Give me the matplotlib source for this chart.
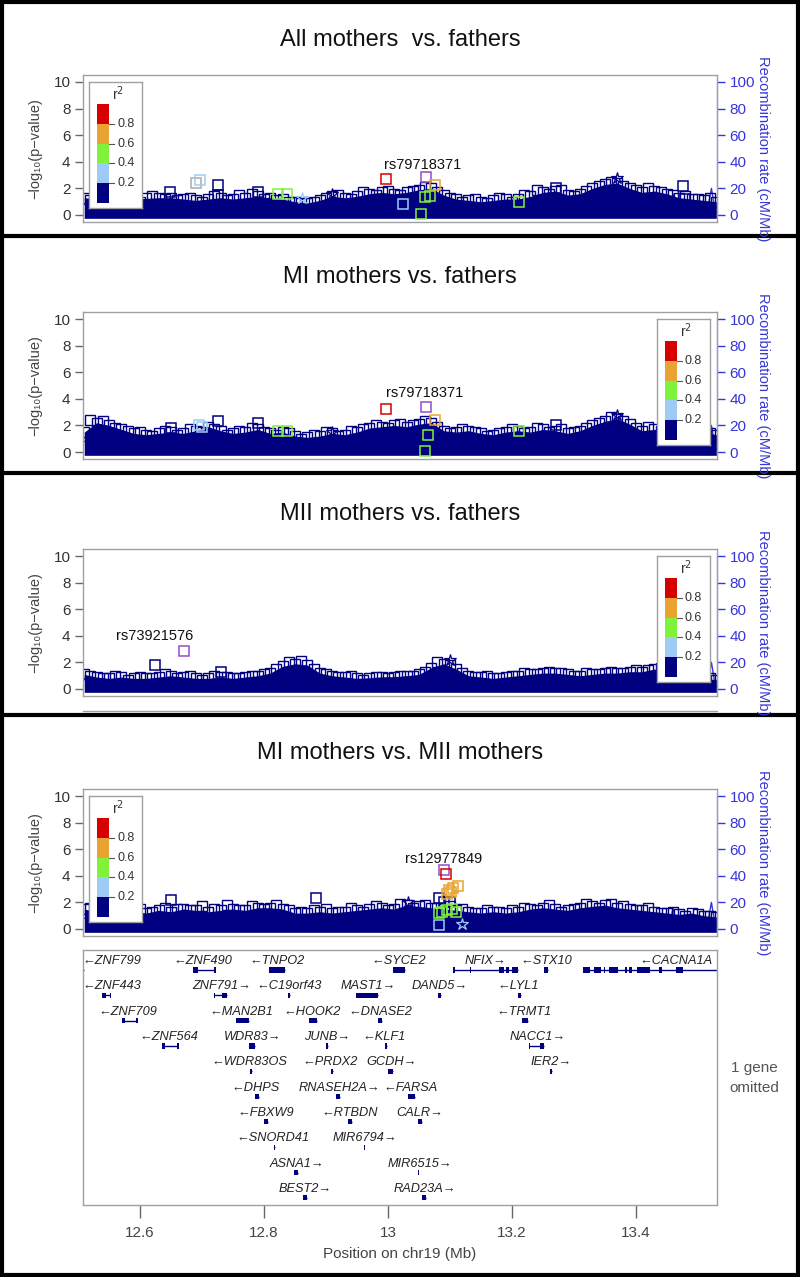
import numpy as np
import matplotlib
matplotlib.use('Agg')
import matplotlib.pyplot as plt
from matplotlib.patches import Rectangle
from matplotlib.lines import Line2D

plt.rcParams['font.family'] = ['Liberation Sans', 'DejaVu Sans']

# ---- data ---------------------------------------------------------------
XLIM = (12.508, 13.531)

# positions (Mb) where the top of the dense SNP cloud was read
env_x = [12.51, 12.53, 12.55, 12.57, 12.59, 12.61, 12.63, 12.65, 12.67, 12.69,
         12.71, 12.73, 12.75, 12.77, 12.79, 12.81, 12.83, 12.85, 12.87, 12.89,
         12.91, 12.93, 12.95, 12.97, 12.99, 13.01, 13.03, 13.05, 13.07, 13.09,
         13.11, 13.13, 13.15, 13.17, 13.19, 13.21, 13.23, 13.25, 13.27, 13.29,
         13.31, 13.33, 13.35, 13.37, 13.39, 13.41, 13.43, 13.45, 13.47, 13.49,
         13.51, 13.53]
# second set of read positions, between the first ones
mid_x = [12.52, 12.54, 12.56, 12.58, 12.60, 12.62, 12.64, 12.66, 12.68, 12.70,
         12.72, 12.74, 12.76, 12.78, 12.80, 12.82, 12.84, 12.86, 12.88, 12.90,
         12.92, 12.94, 12.96, 12.98, 13.00, 13.02, 13.04, 13.06, 13.08, 13.10,
         13.12, 13.14, 13.16, 13.18, 13.20, 13.22, 13.24, 13.26, 13.28, 13.30,
         13.32, 13.34, 13.36, 13.38, 13.40, 13.42, 13.44, 13.46, 13.48, 13.50,
         13.52]

env_all = [1.3, 1.2, 1.1, 1.2, 1.2, 1.25, 1.3, 1.3, 1.2, 1.1,
           1.2, 1.3, 1.2, 1.3, 1.4, 1.3, 1.2, 1.0, 0.9, 1.1,
           1.4, 1.3, 1.4, 1.6, 1.7, 1.6, 1.7, 1.9, 2.0, 1.5,
           1.2, 1.1, 1.0, 1.1, 1.2, 1.2, 1.4, 1.7, 1.8, 1.5,
           1.6, 2.0, 2.3, 2.4, 2.0, 1.7, 1.8, 1.6, 1.3, 1.2,
           1.1, 1.0]
mid_all = [1.1, 1.0, 1.3, 1.1, 1.0, 1.4, 1.2, 1.1, 1.3, 1.0,
           1.4, 1.1, 1.5, 1.6, 1.2, 1.1, 1.0, 0.9, 1.0, 1.3,
           1.5, 1.2, 1.7, 1.5, 1.8, 1.5, 1.8, 2.1, 1.7, 1.3,
           1.0, 1.2, 0.9, 1.3, 1.0, 1.5, 1.9, 1.6, 1.9, 1.4,
           1.8, 2.2, 2.5, 2.2, 1.9, 2.0, 1.7, 1.5, 1.4, 1.2,
           1.3]
env_mi = [1.5, 2.2, 2.0, 1.7, 1.4, 1.3, 1.4, 1.5, 1.4, 1.6,
          1.9, 1.6, 1.4, 1.5, 1.7, 1.4, 1.5, 1.2, 1.1, 1.2,
          1.4, 1.3, 1.5, 1.8, 1.9, 2.0, 1.9, 2.1, 2.2, 1.6,
          1.5, 1.6, 1.4, 1.3, 1.5, 1.6, 1.5, 1.7, 1.6, 1.4,
          1.6, 2.0, 2.3, 2.5, 2.1, 1.6, 1.7, 1.5, 1.3, 1.4,
          1.5, 1.3]
mid_mi = [2.4, 2.3, 1.8, 1.6, 1.5, 1.2, 1.6, 1.3, 1.7, 1.5,
          1.7, 1.3, 1.6, 1.8, 1.5, 1.3, 1.4, 1.0, 1.3, 1.5,
          1.2, 1.6, 1.7, 2.0, 1.8, 2.1, 2.0, 2.3, 1.9, 1.4,
          1.7, 1.5, 1.2, 1.4, 1.7, 1.4, 1.8, 1.5, 1.7, 1.5,
          1.8, 2.2, 2.6, 2.3, 1.8, 1.9, 1.6, 1.4, 1.5, 1.6,
          1.4]
env_mii = [1.1, 0.9, 0.8, 0.9, 0.8, 0.8, 0.9, 1.0, 0.9, 0.8,
           0.8, 0.9, 0.8, 0.9, 1.0, 1.2, 1.7, 1.9, 1.8, 1.2,
           1.0, 0.9, 0.8, 0.8, 0.9, 0.9, 1.0, 1.1, 1.6, 1.9,
           1.5, 1.0, 0.9, 0.8, 0.9, 1.0, 1.1, 1.2, 1.2, 1.1,
           1.0, 1.1, 1.2, 1.2, 1.3, 1.3, 1.5, 1.3, 1.1, 0.9,
           0.8, 0.7]
mid_mii = [1.0, 0.8, 1.0, 0.7, 0.9, 0.8, 1.1, 0.8, 1.0, 0.7,
           1.0, 0.9, 0.8, 1.0, 1.1, 1.5, 2.0, 2.1, 1.5, 1.1,
           0.9, 1.0, 0.7, 0.9, 0.8, 1.0, 1.0, 1.3, 2.0, 1.8,
           1.2, 0.9, 1.0, 0.8, 1.0, 1.2, 1.1, 1.3, 1.2, 1.0,
           1.2, 1.1, 1.3, 1.2, 1.4, 1.4, 1.6, 1.2, 1.0, 0.9,
           0.8]
env_mimii = [1.5, 1.3, 1.6, 1.5, 1.3, 1.2, 1.4, 1.3, 1.5, 1.4,
             1.3, 1.4, 1.5, 1.4, 1.6, 1.6, 1.5, 1.2, 1.2, 1.3,
             1.2, 1.3, 1.4, 1.5, 1.6, 1.5, 1.8, 1.7, 1.6, 1.5,
             1.4, 1.3, 1.2, 1.3, 1.2, 1.3, 1.5, 1.6, 1.5, 1.4,
             1.6, 1.7, 1.8, 1.6, 1.5, 1.4, 1.3, 1.2, 1.1, 1.2,
             1.0, 0.9]
mid_mimii = [1.6, 1.4, 1.9, 1.4, 1.5, 1.3, 1.6, 1.5, 1.4, 1.7,
             1.5, 1.8, 1.4, 1.7, 1.5, 1.8, 1.4, 1.3, 1.4, 1.5,
             1.3, 1.6, 1.3, 1.7, 1.4, 1.9, 1.6, 1.8, 1.6, 1.7,
             1.5, 1.2, 1.4, 1.3, 1.4, 1.6, 1.4, 1.8, 1.3, 1.5,
             1.9, 1.6, 1.9, 1.7, 1.4, 1.6, 1.2, 1.3, 1.0, 1.1,
             1.0]

# individually visible SNPs: position, -log10 p, r2 class
# classes: n navy, l light blue, g green, o orange, r red, p index, a no r2
snp_all_x = [12.648, 12.690, 12.697, 12.726, 12.726, 12.790, 12.823, 12.837,
             12.997, 13.061, 13.076, 13.060, 13.068, 13.053, 13.024, 13.211,
             13.271, 13.476, 13.480]
snp_all_y = [1.75, 2.4, 2.6, 2.25, 1.5, 1.7, 1.6, 1.6,
             2.7, 2.85, 2.25, 1.35, 1.4, 0.05, 0.8, 1.0,
             2.0, 2.15, 1.2]
snp_all_c = ['n', 'a', 'l', 'n', 'n', 'n', 'g', 'g',
             'r', 'p', 'o', 'g', 'g', 'g', 'l', 'g',
             'n', 'n', 'n']
star_all_x = [12.861, 12.910, 13.369]
star_all_y = [1.25, 1.6, 2.8]
star_all_c = ['l', 'n', 'n']

snp_mi_x = [12.650, 12.695, 12.700, 12.726, 12.790, 12.823, 12.837, 12.997,
            13.061, 13.076, 13.060, 13.065, 13.211, 13.271, 13.500]
snp_mi_y = [1.8, 2.0, 1.9, 2.3, 2.2, 1.6, 1.6, 3.2,
            3.4, 2.4, 0.1, 1.3, 1.6, 2.0, 1.9]
snp_mi_c = ['n', 'l', 'l', 'n', 'n', 'g', 'g', 'r',
            'p', 'o', 'g', 'g', 'g', 'n', 'n']
star_mi_x = [12.910, 13.369]
star_mi_y = [1.5, 2.8]
star_mi_c = ['n', 'n']

snp_mii_x = [12.624, 12.671, 12.730]
snp_mii_y = [1.8, 2.85, 1.3]
snp_mii_c = ['n', 'p', 'n']
star_mii_x = [13.100]
star_mii_y = [2.2]
star_mii_c = ['n']

snp_mimii_x = [12.650, 12.884, 13.082, 13.090, 13.100, 13.090, 13.093, 13.098,
               13.102, 13.113, 13.105, 13.095, 13.082, 13.088, 13.095, 13.103,
               13.110, 13.082]
snp_mimii_y = [2.2, 2.3, 2.3, 2.0, 2.0, 4.4, 4.15, 2.9,
               2.75, 3.2, 3.1, 2.6, 1.2, 1.3, 1.4, 1.5,
               1.3, 0.3]
snp_mimii_c = ['n', 'n', 'n', 'n', 'n', 'p', 'r', 'o',
               'o', 'o', 'o', 'o', 'g', 'g', 'g', 'g',
               'g', 'l']
star_mimii_x = [13.032, 13.119]
star_mimii_y = [2.0, 0.4]
star_mimii_c = ['n', 'l']

# recombination rate (cM/Mb)
rec_x = [12.51, 12.56, 12.62, 12.68, 12.74, 12.80, 12.86, 12.92, 12.98, 13.04,
         13.10, 13.16, 13.22, 13.28, 13.34, 13.40, 13.455, 13.46, 13.465,
         13.50, 13.515, 13.522, 13.528, 13.531]
rec_y = [8, 5, 6, 4, 7, 5, 3, 6, 8, 9,
         5, 3, 6, 7, 9, 8, 3, 16, 3,
         4, 2, 20, 3, 2]

titles = ['All mothers  vs. fathers', 'MI mothers vs. fathers',
          'MII mothers vs. fathers', 'MI mothers vs. MII mothers']
index_names = ['rs79718371', 'rs79718371', 'rs73921576', 'rs12977849']
index_label_x = [13.056, 13.060, 12.624, 13.090]
index_label_y = [3.75, 4.45, 4.0, 5.3]

# genes
gene_names = ['ZNF799', 'ZNF490', 'TNPO2', 'SYCE2', 'NFIX', 'STX10', 'CACNA1A',
              'ZNF443', 'ZNF791', 'C19orf43', 'MAST1', 'DAND5', 'LYL1',
              'ZNF709', 'MAN2B1', 'HOOK2', 'DNASE2', 'TRMT1',
              'ZNF564', 'WDR83', 'JUNB', 'KLF1', 'NACC1',
              'WDR83OS', 'PRDX2', 'GCDH', 'IER2',
              'DHPS', 'RNASEH2A', 'FARSA',
              'FBXW9', 'RTBDN', 'CALR',
              'SNORD41', 'MIR6794',
              'ASNA1', 'MIR6515',
              'BEST2', 'RAD23A']
gene_row = [0, 0, 0, 0, 0, 0, 0,
            1, 1, 1, 1, 1, 1,
            2, 2, 2, 2, 2,
            3, 3, 3, 3, 3,
            4, 4, 4, 4,
            5, 5, 5,
            6, 6, 6,
            7, 7,
            8, 8,
            9, 9]
gene_strand = ['-', '-', '-', '-', '+', '-', '-',
               '-', '+', '-', '+', '+', '-',
               '-', '-', '-', '-', '-',
               '-', '+', '+', '-', '+',
               '-', '-', '+', '+',
               '-', '+', '-',
               '-', '-', '+',
               '-', '+',
               '+', '+',
               '+', '+']
gene_start = [12.490, 12.685, 12.808, 13.008, 13.105, 13.252, 13.314,
              12.539, 12.719, 12.839, 12.948, 13.081, 13.210,
              12.571, 12.755, 12.873, 12.984, 13.216,
              12.635, 12.776, 12.900, 12.995, 13.227,
              12.777, 12.908, 13.000, 13.261,
              12.785, 12.916, 13.032,
              12.800, 12.935, 13.048,
              12.816, 12.961,
              12.848, 13.048,
              12.863, 13.055]
gene_end = [12.509, 12.721, 12.834, 13.027, 13.210, 13.258, 13.560,
            12.552, 12.740, 12.842, 12.984, 13.085, 13.214,
            12.595, 12.776, 12.885, 12.990, 13.226,
            12.661, 12.785, 12.903, 12.998, 13.252,
            12.781, 12.911, 13.008, 13.264,
            12.792, 12.923, 13.043,
            12.806, 12.942, 13.055,
            12.818, 12.962,
            12.855, 13.049,
            12.869, 13.061]
gene_label_x = [12.555, 12.702, 12.821, 13.018, 13.158, 13.255, 13.464,
                12.555, 12.731, 12.840, 12.968, 13.084, 13.210,
                12.581, 12.764, 12.877, 12.987, 13.219,
                12.647, 12.782, 12.902, 12.994, 13.242,
                12.777, 12.906, 13.006, 13.264,
                12.787, 12.921, 13.037,
                12.802, 12.939, 13.052,
                12.814, 12.963,
                12.853, 13.052,
                12.866, 13.060]
gene_exons = {
    'ZNF490': [(12.685, 12.693), (12.720, 12.721)],
    'NFIX': [(13.105, 13.106), (13.132, 13.133), (13.180, 13.187),
             (13.190, 13.195), (13.201, 13.210)],
    'CACNA1A': [(13.314, 13.326), (13.332, 13.344), (13.348, 13.349),
                (13.357, 13.371), (13.382, 13.386), (13.389, 13.394),
                (13.402, 13.423), (13.437, 13.442), (13.465, 13.476)],
    'ZNF709': [(12.571, 12.576), (12.594, 12.595)],
    'ZNF564': [(12.635, 12.640), (12.660, 12.661)],
    'NACC1': [(13.227, 13.228), (13.245, 13.252)],
    'ZNF791': [(12.719, 12.720), (12.733, 12.740)],
    'ZNF443': [(12.539, 12.545), (12.551, 12.552)],
}

xticks = [12.6, 12.8, 13.0, 13.2, 13.4]
xticklabels = ['12.6', '12.8', '13', '13.2', '13.4']

# ---- style --------------------------------------------------------------
W, H = 800, 1277
NAVY = '#000080'
R2COL = {'n': NAVY, 'l': '#9DCBF5', 'g': '#7FF23A', 'o': '#E9A330',
         'r': '#D60000', 'p': '#9150C8', 'a': '#AAAAAA'}
BLUE = '#3636D8'
FRAME = '#A0A0A0'


def fbox(x0, y0, x1, y1):
    return [x0 / W, 1 - y1 / H, (x1 - x0) / W, (y1 - y0) / H]


fig = plt.figure(figsize=(W / 100, H / 100), dpi=100)

# pixel layout: (y of "10", y of "0", legend side, title y)
panels = [(82, 215, 'left', 40), (319, 452, 'right', 277),
          (556, 689, 'right', 514), (796, 929, 'left', 753)]
envs = [env_all, env_mi, env_mii, env_mimii]
mids = [mid_all, mid_mi, mid_mii, mid_mimii]
snps = [(snp_all_x, snp_all_y, snp_all_c, star_all_x, star_all_y, star_all_c),
        (snp_mi_x, snp_mi_y, snp_mi_c, star_mi_x, star_mi_y, star_mi_c),
        (snp_mii_x, snp_mii_y, snp_mii_c, star_mii_x, star_mii_y, star_mii_c),
        (snp_mimii_x, snp_mimii_y, snp_mimii_c,
         star_mimii_x, star_mimii_y, star_mimii_c)]


def draw_legend(ax, side):
    x0 = 0.0095 if side == 'left' else 0.905
    lg = ax.inset_axes([x0, 0.094, 0.0836, 0.861])
    lg.set_zorder(10)
    lg.set_xlim(0, 1)
    lg.set_ylim(0, 1)
    lg.set_xticks([])
    lg.set_yticks([])
    for s in lg.spines.values():
        s.set_color(FRAME)
        s.set_linewidth(1)
    cols = ['n', 'l', 'g', 'o', 'r']
    bh = 0.785 / 5
    for i, c in enumerate(cols):
        lg.add_patch(Rectangle((0.151, 0.04 + i * bh), 0.226, bh,
                               facecolor=R2COL[c], edgecolor='none'))
    for i, t in enumerate(['0.2', '0.4', '0.6', '0.8']):
        yy = 0.04 + (i + 1) * bh
        lg.plot([0.377, 0.48], [yy, yy], color='#555555', lw=0.8)
        lg.text(0.53, yy, t, fontsize=9, va='center', ha='left',
                color='#333333')
    lg.text(0.55, 0.91, r'r$^2$', fontsize=10, ha='center', va='center',
            color='#333333')


for k, (y10, y0, side, ty) in enumerate(panels):
    ppu = (y0 - y10) / 10.0
    top = y10 - 0.5 * ppu
    bot = y0 + 0.5 * ppu
    ax = fig.add_axes(fbox(83, top, 717, bot))
    rx = ax.twinx()
    # association layer above the recombination line
    ax.set_zorder(rx.get_zorder() + 1)
    ax.patch.set_visible(False)

    ax.set_xlim(*XLIM)
    ax.set_ylim(-0.5, 10.5)
    ax.set_xticks([])
    ax.set_yticks([0, 2, 4, 6, 8, 10])
    ax.tick_params(axis='y', length=6, width=1, color='#666666',
                   labelsize=11, labelcolor='#333333', pad=3)
    for s in ax.spines.values():
        s.set_color(FRAME)
        s.set_linewidth(1)

    env = envs[k]
    ax.fill_between(env_x, -0.25, env, color=NAVY, lw=0, zorder=1)
    ax.plot(env_x, env, 's', ms=7, mfc='none', mec=NAVY, mew=1, zorder=2)
    ax.plot(mid_x, mids[k], 's', ms=7, mfc='none', mec=NAVY, mew=1, zorder=2)

    sx, sy, sc, tx, tyy, tc = snps[k]
    for x, y, c in zip(sx, sy, sc):
        ax.plot(x, y, 's', ms=7, mfc='none', mec=R2COL[c], mew=1.1, zorder=3)
    for x, y, c in zip(tx, tyy, tc):
        ax.plot(x, y, '*', ms=9, mfc='none', mec=R2COL[c], mew=0.9, zorder=3)
    ax.text(index_label_x[k], index_label_y[k], index_names[k], fontsize=10.5,
            ha='center', va='center', color='#111111', zorder=4)

    rx.set_ylim(-5, 105)
    rx.plot(rec_x, rec_y, color=BLUE, lw=1)
    rx.set_yticks([0, 20, 40, 60, 80, 100])
    rx.tick_params(axis='y', length=6, width=1, color=BLUE,
                   labelsize=11, labelcolor=BLUE, pad=3)
    for n, s in rx.spines.items():
        s.set_visible(n == 'right')
    rx.spines['right'].set_bounds(0, 100)
    rx.spines['right'].set_color(BLUE)

    draw_legend(ax, side)

    fig.text(0.5, 1 - ty / H, titles[k], fontsize=17, ha='center',
             va='center', color='#111111')
    mid = 1 - (y10 + y0) / 2 / H
    fig.text(35 / W, mid, '−log₁₀(p−value)', rotation=90, fontsize=10.5,
             ha='center', va='center', color='#444444')
    fig.text(763 / W, mid, 'Recombination rate (cM/Mb)', rotation=270,
             fontsize=10.5, ha='center', va='center', color=BLUE)

# top edge of the hidden gene track under the third panel
fig.add_artist(Line2D([83 / W, 717 / W], [1 - 711 / H, 1 - 711 / H],
                      color=FRAME, lw=1))

# ---- gene track ---------------------------------------------------------
gx = fig.add_axes(fbox(83, 950, 717, 1205))
gx.set_xlim(*XLIM)
gx.set_ylim(9.6, -0.47)
gx.set_yticks([])
gx.set_xticks(xticks)
gx.set_xticklabels(xticklabels)
gx.tick_params(axis='x', length=9, width=1, color='#666666', labelsize=11,
               labelcolor='#444444', pad=6)
for s in gx.spines.values():
    s.set_color(FRAME)
    s.set_linewidth(1)
gx.set_xlabel('Position on chr19 (Mb)', fontsize=11, color='#444444',
              labelpad=5)

for name, row, st, a, b, lx in zip(gene_names, gene_row, gene_strand,
                                   gene_start, gene_end, gene_label_x):
    yg = row + 0.32
    gx.plot([a, b], [yg, yg], color=NAVY, lw=1, solid_capstyle='butt')
    exons = gene_exons.get(name, [(a, b)])
    for ea, eb in exons:
        w = max(eb - ea, 0.0025)
        gx.add_patch(Rectangle((ea, yg - 0.1), w, 0.2, facecolor=NAVY,
                               edgecolor='none'))
    label = '←' + name if st == '-' else name + '→'
    gx.text(lx, row - 0.03, label, fontsize=9.2, style='italic', ha='center',
            va='center', color='#222222', clip_on=True)

fig.text(754 / W, 1 - 1078 / H, '1 gene\nomitted', fontsize=11,
         ha='center', va='center', color='#555555', linespacing=1.5)

# ---- black panel frames -------------------------------------------------
fig.add_artist(Rectangle((0.0025, 0.0016), 0.995, 0.9968, transform=fig.transFigure,
                         fill=False, edgecolor='black', lw=3))
for yy in [236, 473, 715]:
    fig.add_artist(Line2D([0, 1], [1 - yy / H, 1 - yy / H], color='black', lw=3))

fig.savefig('out.png', dpi=100)
